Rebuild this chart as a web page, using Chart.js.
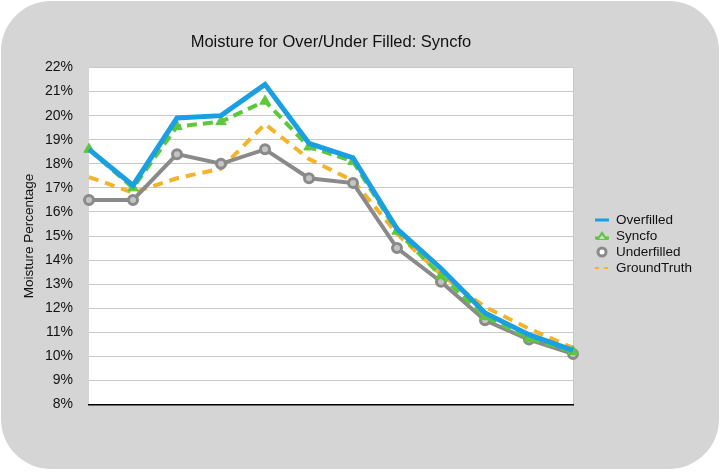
<!DOCTYPE html>
<html>
<head>
<meta charset="utf-8">
<script src="https://cdn.jsdelivr.net/npm/chart.js@4.4.1/dist/chart.umd.min.js"></script>
<style>
  body { margin: 0; background: #fff; }
  #card {
    position: absolute; left: 1px; top: 1px; width: 718px; height: 468px;
    background: #d5d5d5; border-radius: 50px;
  }
  #chart { position: absolute; left: 0; top: 0; }
  #legend {
    position: absolute; left: 594px; top: 212px;
    font: 13.5px "Liberation Sans", Arial, sans-serif; color: #111;
  }
  .item { height: 16px; line-height: 16px; display: flex; align-items: center; }
  .item svg { width: 16px; height: 12px; margin-right: 6px; }
</style>
</head>
<body>
<div id="card"></div>
<canvas id="chart" width="720" height="472"></canvas>
<div id="legend"></div>
<script>
const points = ["1", "2", "3", "4", "5", "6", "7", "8", "9", "10", "11", "12"];
const overfilled = [18.6, 17.1, 19.9, 20.0, 21.3, 18.85, 18.25, 15.3, 13.65, 11.8, 10.9, 10.25];
const syncfo = [18.6, 17.0, 19.55, 19.75, 20.6, 18.7, 18.1, 15.2, 13.35, 11.65, 10.75, 10.2];
const underfilled = [16.5, 16.5, 18.4, 18.0, 18.6, 17.4, 17.2, 14.5, 13.1, 11.5, 10.7, 10.1];
const groundTruth = [17.45, 16.8, 17.4, 17.8, 19.65, 18.2, 17.3, 15.1, 13.4, 12.05, 11.15, 10.35];
const seriesNames = ["Overfilled", "Syncfo", "Underfilled", "GroundTruth"];

const blue = "#1a9fe2";
const green = "#5cc83a";
const gray = "#8a8a8a";
const orange = "#f5b32b";
const fontFamily = "'Liberation Sans', Arial, sans-serif";

// white plot background + right edge line
const plotBg = {
  id: "plotBg",
  beforeDraw(chart) {
    const a = chart.chartArea;
    const ctx = chart.ctx;
    ctx.save();
    ctx.fillStyle = "#fff";
    ctx.fillRect(a.left, a.top, a.right - a.left, a.bottom - a.top);
    ctx.strokeStyle = "#c8c8c8";
    ctx.lineWidth = 1;
    ctx.beginPath();
    ctx.moveTo(a.right + 0.5, a.top);
    ctx.lineTo(a.right + 0.5, a.bottom);
    ctx.stroke();
    ctx.restore();
  }
};

new Chart(document.getElementById("chart"), {
  type: "line",
  data: {
    labels: points,
    datasets: [
      {
        label: seriesNames[0], data: overfilled,
        borderColor: blue, borderWidth: 5, pointRadius: 0
      },
      {
        label: seriesNames[1], data: syncfo,
        borderColor: green, borderWidth: 4, borderDash: [10, 6],
        pointStyle: "triangle", pointRadius: 6,
        pointBackgroundColor: green, pointBorderColor: green, pointBorderWidth: 1
      },
      {
        label: seriesNames[2], data: underfilled,
        borderColor: gray, borderWidth: 4,
        pointStyle: "circle", pointRadius: 4.5,
        pointBackgroundColor: "#c4c4c4", pointBorderColor: gray, pointBorderWidth: 3
      },
      {
        label: seriesNames[3], data: groundTruth,
        borderColor: orange, borderWidth: 4, borderDash: [10, 7], pointRadius: 0
      }
    ]
  },
  options: {
    responsive: false,
    animation: false,
    layout: { padding: { left: 0, right: 147, top: 0, bottom: 67.5 } },
    plugins: {
      legend: { display: false },
      tooltip: { enabled: false },
      title: {
        display: true,
        fullSize: false,
        text: "Moisture for Over/Under Filled: Syncfo",
        color: "#111",
        font: { family: fontFamily, size: 16.5, weight: "normal" },
        padding: { top: 33, bottom: 14.7 }
      }
    },
    scales: {
      x: {
        offset: false,
        grid: { display: false, drawTicks: false },
        border: { display: true, color: "#000", width: 1.5 },
        ticks: { display: false },
        afterFit(scale) { scale.height = 0; }
      },
      y: {
        min: 8, max: 22,
        grid: { color: "#c8c8c8", lineWidth: 1, drawTicks: false },
        border: { display: false },
        ticks: {
          stepSize: 1, padding: 16, color: "#111",
          font: { family: fontFamily, size: 14 },
          callback: v => v + "%"
        },
        title: {
          display: true, text: "Moisture Percentage", color: "#111",
          font: { family: fontFamily, size: 13.5 },
          padding: { top: 21, bottom: 0 }
        },
        afterFit(scale) { scale.width = 89; }
      }
    }
  },
  plugins: [plotBg]
});

// legend
const icons = [
  `<svg viewBox="0 0 16 12"><line x1="1" y1="6" x2="15" y2="6" stroke="${blue}" stroke-width="3"/></svg>`,
  `<svg viewBox="0 0 16 12"><line x1="1" y1="8" x2="15" y2="8" stroke="${green}" stroke-width="3"/><polygon points="8,1 14,10 2,10" fill="${green}"/><polygon points="8,5 11,9 5,9" fill="#d5d5d5"/></svg>`,
  `<svg viewBox="0 0 16 12"><circle cx="8" cy="6" r="4" fill="#fff" stroke="${gray}" stroke-width="3"/></svg>`,
  `<svg viewBox="0 0 16 12"><line x1="1" y1="6" x2="5" y2="6" stroke="${orange}" stroke-width="2"/><line x1="10" y1="6" x2="14" y2="6" stroke="${orange}" stroke-width="2"/></svg>`
];
const legend = document.getElementById("legend");
seriesNames.forEach((name, i) => {
  const row = document.createElement("div");
  row.className = "item";
  row.innerHTML = icons[i] + `<span>${name}</span>`;
  legend.appendChild(row);
});
</script>
</body>
</html>
